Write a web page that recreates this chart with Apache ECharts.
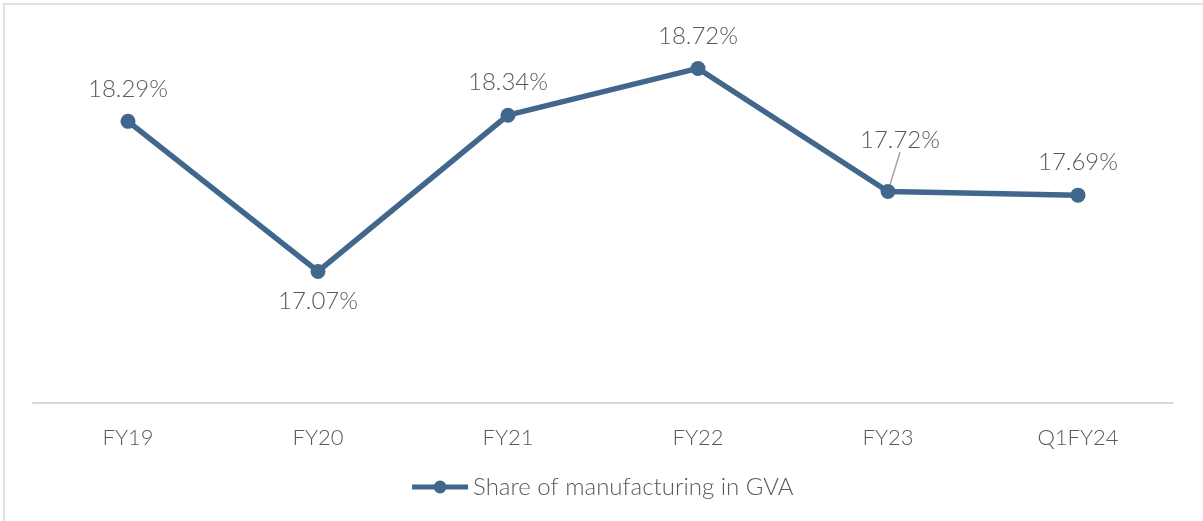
<!DOCTYPE html>
<html>
<head>
<meta charset="utf-8">
<script src="https://cdn.jsdelivr.net/npm/echarts@6/dist/echarts.min.js"></script>
<style>
  html, body { margin: 0; padding: 0; background: #fff; }
  #chart { width: 1203px; height: 521px; }
</style>
</head>
<body>
<div id="chart"></div>
<script>
// Data
// ------------------------------
var categories = ['FY19', 'FY20', 'FY21', 'FY22', 'FY23', 'Q1FY24'];
var shareValues = [18.29, 17.07, 18.34, 18.72, 17.72, 17.69];

var lineColor = '#41688c';
var textColor = '#595959';
var fontName = 'Lato, "Open Sans", sans-serif';

var chart = echarts.init(document.getElementById('chart'));

var options = {
    animation: false,
    grid: { left: 33, right: 30, top: 34, bottom: 118 },

    // border round the chart area
    graphic: [{
        type: 'rect',
        shape: { x: 4, y: 4, width: 1230, height: 540 },
        style: { fill: 'none', stroke: '#d9d9d9', lineWidth: 1.5 },
        silent: true
    }],

    legend: {
        bottom: 17,
        left: 'center',
        itemWidth: 56,
        itemHeight: 16,
        itemGap: 10,
        data: ['Share of manufacturing in GVA'],
        lineStyle: { width: 5 },
        textStyle: { color: textColor, fontSize: 24, fontFamily: fontName, fontWeight: 300 }
    },

    xAxis: {
        type: 'category',
        data: categories,
        boundaryGap: true,
        axisLine: { lineStyle: { color: '#d9d9d9', width: 2 } },
        axisTick: { show: false },
        axisLabel: { color: textColor, fontSize: 22, fontFamily: fontName, fontWeight: 300, margin: 24 }
    },
    yAxis: {
        type: 'value',
        min: 16,
        max: 19,
        show: false,
        splitLine: { show: false }
    },

    series: [{
        name: 'Share of manufacturing in GVA',
        type: 'line',
        data: shareValues.map(function (v, i) {
            var item = { value: v };
            if (i === 1) {
                item.label = { position: 'bottom', distance: 10 };
            }
            if (i === 4) {
                item.labelLine = { show: true };
            }
            return item;
        }),
        symbol: 'circle',
        symbolSize: 15,
        lineStyle: { color: lineColor, width: 5.5 },
        itemStyle: { color: lineColor },
        label: {
            show: true,
            position: 'top',
            distance: 13,
            color: textColor,
            fontSize: 24,
            fontFamily: fontName,
            fontWeight: 300,
            formatter: function (p) { return p.value.toFixed(2) + '%'; }
        },
        labelLine: {
            show: false,
            lineStyle: { color: '#a6a6a6', width: 1.5 }
        },
        labelLayout: function (params) {
            if (params.dataIndex === 4) {
                return { dx: 12, dy: -19 };
            }
        }
    }]
};

chart.setOption(options);

window.onresize = function () {
    setTimeout(function () {
        chart.resize();
    }, 200);
};
</script>
</body>
</html>
